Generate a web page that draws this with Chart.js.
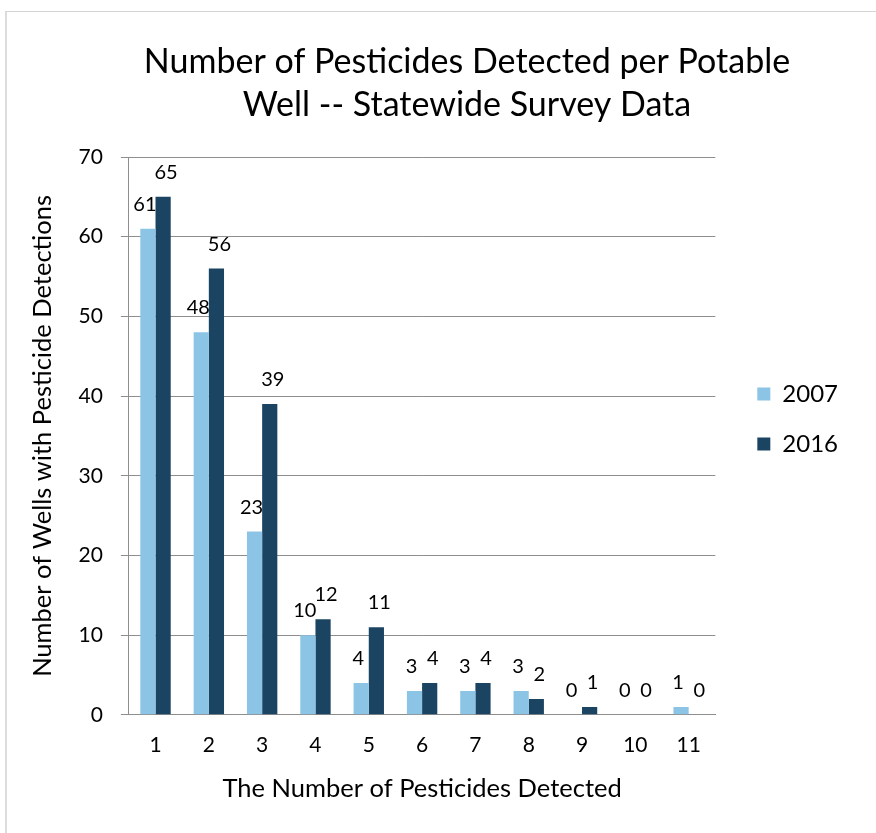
<!DOCTYPE html>
<html>
<head>
<meta charset="utf-8">
<script src="https://cdn.jsdelivr.net/npm/chart.js@4/dist/chart.umd.min.js"></script>
<style>
  html, body { margin: 0; padding: 0; background: #ffffff; }
  #frame {
    position: absolute; left: 5px; top: 11px; width: 900px; height: 900px;
    border-top: 1px solid #d4d4d4; border-left: 2px solid #dcdcdc;
  }
  #wrap { position: absolute; left: 0; top: 0; width: 876px; height: 833px; }
</style>
</head>
<body>
<div id="frame"></div>
<div id="wrap"><canvas id="chart" width="876" height="833"></canvas></div>
<script>
// Number of pesticides detected in each well (x categories)
const categories = ['1', '2', '3', '4', '5', '6', '7', '8', '9', '10', '11'];
// Wells per detection count, by survey year
const wells2007 = [61, 48, 23, 10, 4, 3, 3, 3, 0, 0, 1];
const wells2016 = [65, 56, 39, 12, 11, 4, 4, 2, 1, 0, 0];
const seriesNames = ['2007', '2016'];
const yTicks = [0, 10, 20, 30, 40, 50, 60, 70];

const FONT = 'Lato, "Open Sans", sans-serif';
const LIGHT = '#8cc4e6';
const DARK = '#1a4462';
const GRID = '#8e8e8e';

// Value labels above each bar
const valueLabels = {
  id: 'valueLabels',
  afterDatasetsDraw(chart) {
    const ctx = chart.ctx;
    ctx.save();
    ctx.font = '20px ' + FONT;
    ctx.fillStyle = '#000';
    ctx.textAlign = 'center';
    ctx.textBaseline = 'alphabetic';
    chart.data.datasets.forEach((ds, di) => {
      const meta = chart.getDatasetMeta(di);
      const shift = di === 0 ? -3 : 3;
      meta.data.forEach((bar, i) => {
        ctx.fillText(String(ds.data[i]), bar.x + shift, bar.y - 18);
      });
    });
    ctx.restore();
  }
};

// Centre the chart title over the area to the right of the frame's left margin
const titleOffset = {
  id: 'titleOffset',
  afterLayout(chart) {
    if (chart.titleBlock) chart.titleBlock.left += 60;
  }
};

new Chart(document.getElementById('chart'), {
  type: 'bar',
  data: {
    labels: categories,
    datasets: [
      { label: seriesNames[0], data: wells2007, backgroundColor: LIGHT, borderWidth: 0 },
      { label: seriesNames[1], data: wells2016, backgroundColor: DARK, borderWidth: 0 }
    ]
  },
  options: {
    responsive: false,
    animation: false,
    events: [],
    datasets: { bar: { categoryPercentage: 0.57, barPercentage: 1.0 } },
    layout: { padding: { top: 36, left: 26, right: 28, bottom: 31 } },
    plugins: {
      tooltip: { enabled: false },
      title: {
        display: true,
        text: ['Number of Pesticides Detected per Potable', 'Well -- Statewide Survey Data'],
        color: '#000',
        font: { family: FONT, size: 34, weight: 'normal', lineHeight: 1.265 },
        padding: { top: 5, bottom: 30 }
      },
      legend: {
        position: 'right',
        align: 'center',
        labels: {
          color: '#000',
          font: { family: FONT, size: 24 },
          boxWidth: 13,
          boxHeight: 13,
          padding: 26
        }
      }
    },
    scales: {
      x: {
        grid: { display: false, drawTicks: false },
        border: { display: true, color: GRID, width: 1 },
        ticks: { color: '#000', font: { family: FONT, size: 21, lineHeight: 0.65 }, padding: 24, maxRotation: 0 },
        title: {
          display: true,
          text: 'The Number of Pesticides Detected',
          color: '#000',
          font: { family: FONT, size: 25.5, lineHeight: 1.0 },
          padding: { top: 0, bottom: 0 }
        }
      },
      y: {
        min: 0,
        max: 70,
        afterBuildTicks(scale) { scale.ticks = yTicks.map(v => ({ value: v })); },
        grid: { color: GRID, lineWidth: 1, tickLength: 8, drawTicks: true },
        border: { display: true, color: GRID, width: 1 },
        ticks: { color: '#000', font: { family: FONT, size: 21 }, padding: 18 },
        title: {
          display: true,
          text: 'Number of Wells with Pesticide Detections',
          color: '#000',
          font: { family: FONT, size: 25.5, lineHeight: 1.0 },
          padding: { top: 4, bottom: 5 }
        }
      },
      gap: {
        position: 'right',
        display: true,
        grid: { display: false },
        border: { display: false },
        ticks: { display: false },
        afterFit(scale) { scale.width = 16; }
      }
    }
  },
  plugins: [valueLabels, titleOffset]
});
</script>
</body>
</html>
